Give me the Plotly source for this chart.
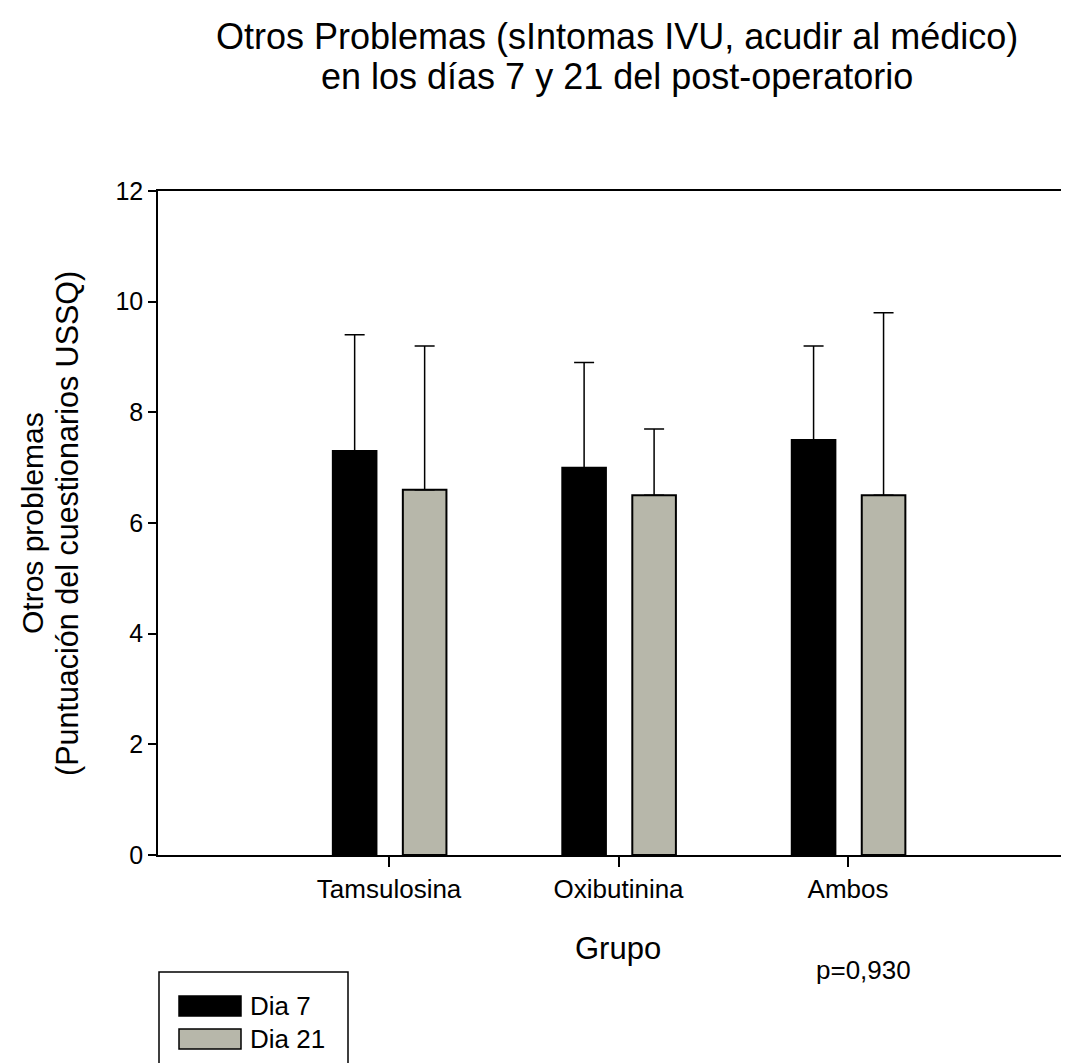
import plotly.graph_objects as go

# ---- data ----
groups = ["Tamsulosina", "Oxibutinina", "Ambos"]
dia7 = [7.3, 7.0, 7.5]
dia7_err = [2.1, 1.9, 1.7]
dia21 = [6.6, 6.5, 6.5]
dia21_err = [2.6, 1.2, 3.3]
series_names = ["Dia 7", "Dia 21"]
yticks = [0, 2, 4, 6, 8, 10, 12]
title_lines = ["Otros Problemas (sIntomas IVU, acudir al médico)",
               "en los días 7 y 21 del post-operatorio"]
ytitle_lines = ["Otros problemas", "(Puntuación del cuestionarios USSQ)"]
xtitle = "Grupo"
p_text = "p=0,930"

# ---- layout helpers (pixel -> paper) ----
W, H = 1069, 1063
L, T, B = 150, 183, 216
PW = W - L
PH = H - T - B


def px(x):
    return (x - L) / PW


def py(y):
    return (H - B - y) / PH


FONT = "Liberation Sans, Arial, sans-serif"
BLACK = "#000000"
GRAY = "#b7b7aa"

xs = list(range(len(groups)))
bar_w = 0.19

fig = go.Figure()
fig.add_trace(go.Bar(
    x=xs, y=dia7, name=series_names[0], width=bar_w, offset=-0.245,
    marker=dict(color=BLACK, line=dict(color=BLACK, width=2)),
    error_y=dict(type="data", symmetric=False, array=dia7_err,
                 arrayminus=[0] * len(dia7), color=BLACK, thickness=1.5, width=10),
    showlegend=False,
))
fig.add_trace(go.Bar(
    x=xs, y=dia21, name=series_names[1], width=bar_w, offset=0.060,
    marker=dict(color=GRAY, line=dict(color=BLACK, width=2)),
    error_y=dict(type="data", symmetric=False, array=dia21_err,
                 arrayminus=[0] * len(dia21), color=BLACK, thickness=1.5, width=10),
    showlegend=False,
))

annotations = []
# title lines
annotations.append(dict(text=title_lines[0], x=px(609), y=py(28), xref="paper", yref="paper",
                        xanchor="center", yanchor="middle", showarrow=False,
                        font=dict(family=FONT, size=36, color=BLACK)))
annotations.append(dict(text=title_lines[1], x=px(609), y=py(68), xref="paper", yref="paper",
                        xanchor="center", yanchor="middle", showarrow=False,
                        font=dict(family=FONT, size=36, color=BLACK)))
# y axis title lines
annotations.append(dict(text=ytitle_lines[0], x=px(24), y=py(515), xref="paper", yref="paper",
                        xanchor="center", yanchor="middle", showarrow=False, textangle=-90,
                        font=dict(family=FONT, size=30, color=BLACK)))
annotations.append(dict(text=ytitle_lines[1], x=px(59), y=py(516), xref="paper", yref="paper",
                        xanchor="center", yanchor="middle", showarrow=False, textangle=-90,
                        font=dict(family=FONT, size=30.5, color=BLACK)))
# x title and p value
annotations.append(dict(text=xtitle, x=px(610), y=py(940), xref="paper", yref="paper",
                        xanchor="center", yanchor="middle", showarrow=False,
                        font=dict(family=FONT, size=31, color=BLACK)))
annotations.append(dict(text=p_text, x=px(855), y=py(962), xref="paper", yref="paper",
                        xanchor="center", yanchor="middle", showarrow=False,
                        font=dict(family=FONT, size=26, color=BLACK)))
# legend texts
annotations.append(dict(text=series_names[0], x=px(240), y=py(998), xref="paper", yref="paper",
                        xanchor="left", yanchor="middle", showarrow=False,
                        font=dict(family=FONT, size=26, color=BLACK)))
annotations.append(dict(text=series_names[1], x=px(240), y=py(1031), xref="paper", yref="paper",
                        xanchor="left", yanchor="middle", showarrow=False,
                        font=dict(family=FONT, size=26, color=BLACK)))

shapes = [
    # legend box (bottom runs off the canvas)
    dict(type="rect", xref="paper", yref="paper", x0=px(151), x1=px(340), y0=py(964), y1=py(1075),
         line=dict(color=BLACK, width=1.5), fillcolor="rgba(0,0,0,0)"),
    dict(type="rect", xref="paper", yref="paper", x0=px(171), x1=px(233), y0=py(988), y1=py(1008),
         line=dict(color=BLACK, width=1.5), fillcolor=BLACK),
    dict(type="rect", xref="paper", yref="paper", x0=px(171), x1=px(233), y0=py(1021), y1=py(1041),
         line=dict(color=BLACK, width=1.5), fillcolor=GRAY),
]

fig.update_layout(
    width=W, height=H,
    margin=dict(l=L, r=0, t=T, b=B, pad=0),
    paper_bgcolor="white", plot_bgcolor="white",
    barmode="overlay",
    showlegend=False,
    font=dict(family=FONT, color=BLACK),
    annotations=annotations,
    shapes=shapes,
)
fig.update_xaxes(
    range=[-1.007, 2.998],
    tickmode="array", tickvals=xs, ticktext=groups,
    ticks="outside", ticklen=10, tickwidth=1.5, tickcolor=BLACK,
    tickfont=dict(family=FONT, size=26, color=BLACK),
    showline=True, linecolor=BLACK, linewidth=1.5, mirror=True,
    showgrid=False, zeroline=False,
)
fig.update_yaxes(
    range=[0, 12],
    tickmode="array", tickvals=yticks,
    ticks="outside", ticklen=8, tickwidth=1.5, tickcolor=BLACK,
    tickfont=dict(family=FONT, size=25, color=BLACK),
    showline=True, linecolor=BLACK, linewidth=1.5, mirror=False,
    showgrid=False, zeroline=False,
)

fig.write_html("out.html")
